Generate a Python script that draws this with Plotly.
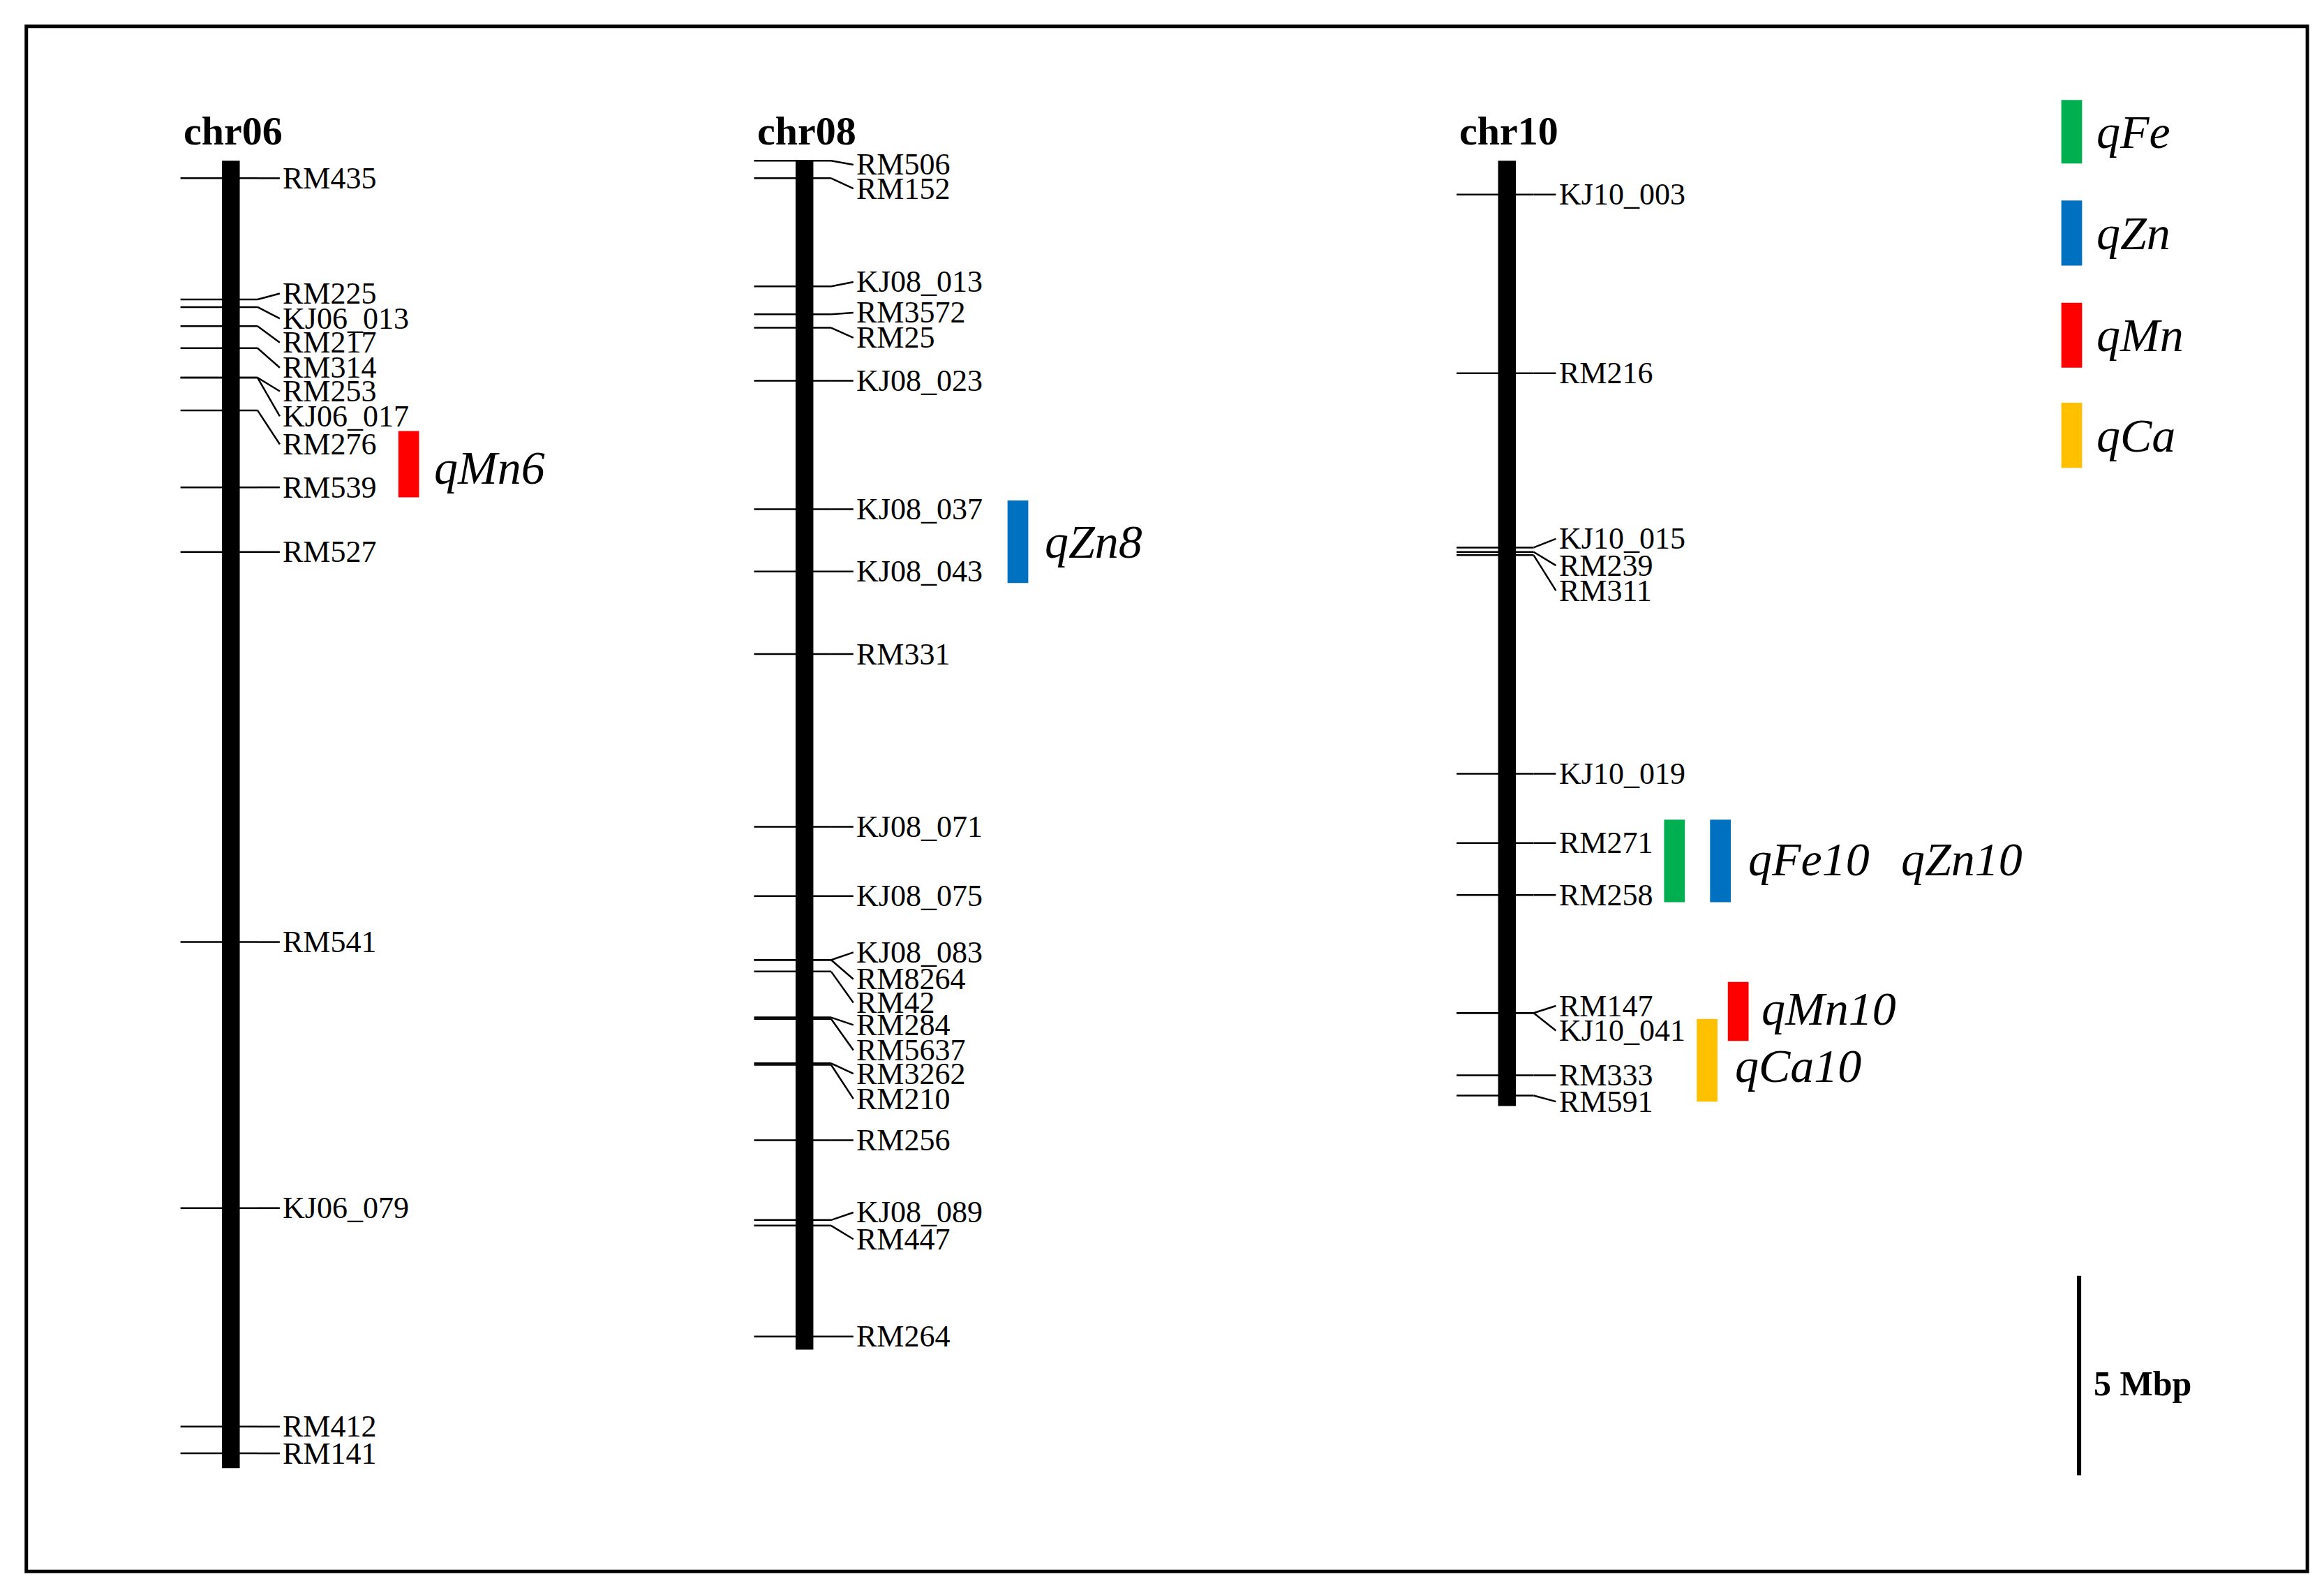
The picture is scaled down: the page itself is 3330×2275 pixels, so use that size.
import plotly.graph_objects as go

# chromosome definitions: name, x-center (layout units), length (Mbp)
chr_names = ["chr06", "chr08", "chr10"]
chr_x = [152, 539, 1013]
chr_len = [32.78, 29.81, 23.70]

# markers: (name, position Mbp, label position Mbp)
chr06_names = ["RM435","RM225","KJ06_013","RM217","RM314","RM253","KJ06_017","RM276","RM539","RM527","RM541","KJ06_079","RM412","RM141"]
chr06_pos = [0.44,3.48,3.67,4.15,4.70,5.44,5.44,6.26,8.19,9.81,19.59,26.26,31.74,32.41]
chr06_lab = [0.44,3.33,3.96,4.56,5.19,5.78,6.41,7.11,8.19,9.81,19.59,26.26,31.74,32.41]

chr08_names = ["RM506","RM152","KJ08_013","RM3572","RM25","KJ08_023","KJ08_037","KJ08_043","RM331","KJ08_071","KJ08_075","KJ08_083","RM8264","RM42","RM284","RM5637","RM3262","RM210","RM256","KJ08_089","RM447","RM264"]
chr08_pos = [0.0,0.44,3.15,3.85,4.19,5.52,8.74,10.30,12.37,16.70,18.44,20.04,20.04,20.33,21.48,21.52,22.63,22.67,24.56,26.56,26.70,29.48]
chr08_lab = [0.1,0.70,3.04,3.81,4.44,5.52,8.74,10.30,12.37,16.70,18.44,19.85,20.52,21.11,21.67,22.30,22.89,23.52,24.56,26.37,27.04,29.48]

chr10_names = ["KJ10_003","RM216","KJ10_015","RM239","RM311","KJ10_019","RM271","RM258","RM147","KJ10_041","RM333","RM591"]
chr10_pos = [0.85,5.33,9.70,9.81,9.89,15.37,17.11,18.41,21.37,21.37,22.93,23.44]
chr10_lab = [0.85,5.33,9.48,10.15,10.78,15.37,17.11,18.41,21.19,21.81,22.93,23.59]

# QTLs
qtl_names = ["qMn6","qZn8","qFe10","qZn10","qMn10","qCa10"]
qtl_x = [272, 683, 1126, 1157, 1169, 1148]
qtl_start = [6.78, 8.52, 16.52, 16.52, 20.59, 21.52]
qtl_end = [8.44, 10.59, 18.59, 18.59, 22.07, 23.59]
qtl_trait = ["Mn","Zn","Fe","Zn","Mn","Ca"]
qtl_label_x = [288, 700, 1175, 1278, 1184, 1166]
qtl_label_y = [7.70, 9.56, 17.52, 17.52, 21.26, 22.70]

legend_traits = ["Fe","Zn","Mn","Ca"]
legend_labels = ["qFe","qZn","qMn","qCa"]
legend_y0 = [-1.52, 1.00, 3.56, 6.07]
legend_y1 = [0.07, 2.63, 5.19, 7.70]
colors = {"Fe": "#00B050", "Zn": "#0070C0", "Mn": "#FF0000", "Ca": "#FFC000"}

scale_start, scale_len = 27.96, 5.0

fig = go.Figure()
shapes, ann = [], []
SERIF = "Liberation Serif"

markers = [(chr06_names, chr06_pos, chr06_lab), (chr08_names, chr08_pos, chr08_lab), (chr10_names, chr10_pos, chr10_lab)]
for i, (cx, L) in enumerate(zip(chr_x, chr_len)):
    shapes.append(dict(type="rect", x0=cx-6, x1=cx+6, y0=0, y1=L, fillcolor="black", line=dict(width=0)))
    ann.append(dict(x=cx-33, y=-0.75, text="<b>%s</b>" % chr_names[i], showarrow=False, xanchor="left", yanchor="middle",
                    font=dict(family=SERIF, size=58, color="black")))
    names, pos, lab = markers[i]
    for n, p, lb in zip(names, pos, lab):
        shapes.append(dict(type="line", x0=cx-34, x1=cx+18, y0=p, y1=p, line=dict(color="black", width=2.5)))
        shapes.append(dict(type="line", x0=cx+18, x1=cx+33, y0=p, y1=lb, line=dict(color="black", width=2.5)))
        ann.append(dict(x=cx+34, y=lb, text=n, showarrow=False, xanchor="left", yanchor="middle",
                        font=dict(family=SERIF, size=44, color="black")))

for n, x, s, e, t, lx, ly in zip(qtl_names, qtl_x, qtl_start, qtl_end, qtl_trait, qtl_label_x, qtl_label_y):
    shapes.append(dict(type="rect", x0=x-7, x1=x+7, y0=s, y1=e, fillcolor=colors[t], line=dict(width=0)))
    ann.append(dict(x=lx, y=ly, text="<i>%s</i>" % n, showarrow=False, xanchor="left", yanchor="middle",
                    font=dict(family=SERIF, size=68, color="black")))

for t, lbl, y0, y1 in zip(legend_traits, legend_labels, legend_y0, legend_y1):
    shapes.append(dict(type="rect", x0=1387, x1=1401, y0=y0, y1=y1, fillcolor=colors[t], line=dict(width=0)))
    ann.append(dict(x=1410, y=(y0+y1)/2, text="<i>%s</i>" % lbl, showarrow=False, xanchor="left", yanchor="middle",
                    font=dict(family=SERIF, size=68, color="black")))

shapes.append(dict(type="line", x0=1399, x1=1399, y0=scale_start, y1=scale_start+scale_len, line=dict(color="black", width=6)))
ann.append(dict(x=1408, y=scale_start+scale_len/2+0.2, text="<b>5 Mbp</b>", showarrow=False, xanchor="left", yanchor="middle",
                font=dict(family=SERIF, size=50, color="black")))

shapes.append(dict(type="rect", xref="paper", yref="paper", x0=14/1568, x1=1553/1568, y0=1-1060/1075, y1=1-14/1075,
                   line=dict(color="black", width=5), fillcolor="rgba(0,0,0,0)"))

fig.update_layout(width=3330, height=2275, margin=dict(l=0, r=0, t=0, b=0),
                  plot_bgcolor="white", paper_bgcolor="white", shapes=shapes, annotations=ann, showlegend=False,
                  xaxis=dict(range=[0, 1568], visible=False),
                  yaxis=dict(range=[(1075-105)/27, -105/27], visible=False))
fig.write_html("out.html")
